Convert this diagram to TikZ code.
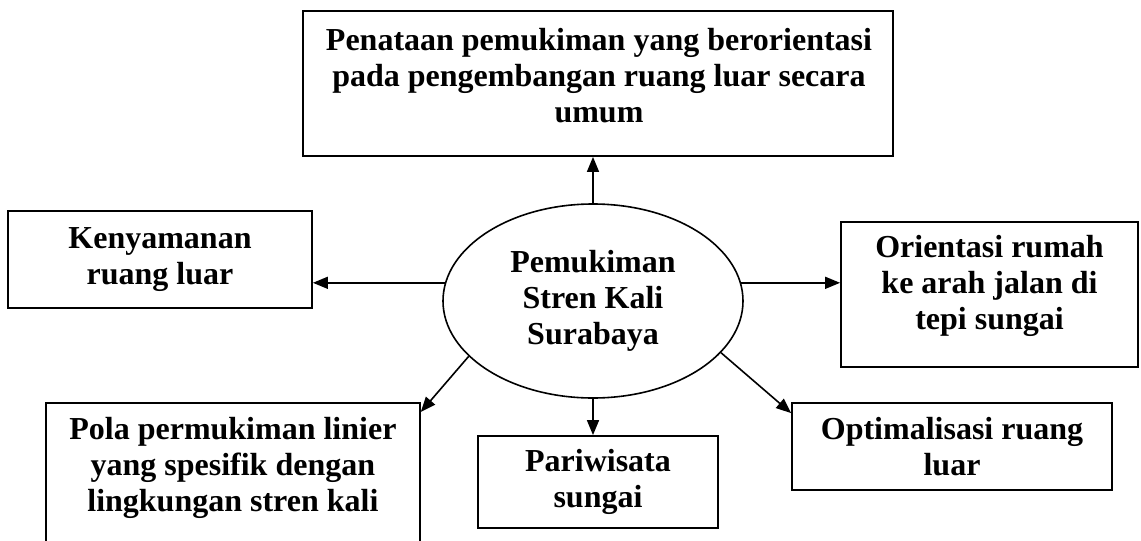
\documentclass[tikz,border=0pt]{standalone}
\usepackage{fontspec}
\setmainfont{Liberation Serif}
\usetikzlibrary{shapes.geometric,arrows.meta,calc}
\begin{document}
\begin{tikzpicture}[x=1pt,y=-1pt,
  every node/.style={font=\fontsize{32}{36}\selectfont\bfseries, align=center, inner sep=0pt},
  box/.style={draw, line width=1.8pt, rectangle},
  hub/.style={draw, line width=1.6pt, ellipse, minimum width=300pt, minimum height=194pt},
  link/.style={line width=1.6pt, -{Triangle[length=15pt,width=12pt]}}
]
\useasboundingbox (0,0) rectangle (1141,541);

% central theme
\node[hub] (c) at (593,301) {Pemukiman\\Stren Kali\\Surabaya};

% surrounding aspects
\node[box, minimum width=590pt, minimum height=145pt] (top) at (598,83.5) {};
\node (toptext) at (599,76)
  {Penataan pemukiman yang berorientasi\\pada pengembangan ruang luar secara\\umum};
\node[box, minimum width=304pt, minimum height=97pt] (ken) at (160,259.5)
  {Kenyamanan\\ruang luar};
\node[box, minimum width=297pt, minimum height=145pt] (ori) at (989.5,294.5) {};
\node (oritext) at (989.5,286)
  {Orientasi rumah\\ke arah jalan di\\tepi sungai};
\node[box, minimum width=374pt, minimum height=150pt, anchor=north west] (pola) at (45,402) {};
\node[anchor=north] (polatext) at ($(pola.north)+(0,15)$)
  {Pola permukiman linier\\yang spesifik dengan\\lingkungan stren kali};
\node[box, minimum width=240pt, minimum height=92pt] (pari) at (598,482)
  {Pariwisata\\sungai};
\node[box, minimum width=320pt, minimum height=87pt] (opt) at (952,446.5)
  {Optimalisasi ruang\\luar};

% connectors
\draw[link] (c.north) -- (c.north |- top.south);
\draw[link] (c.173) -- (c.173 -| ken.east);
\draw[link] (c.7) -- (c.7 -| ori.west);
\draw[link] (c.south) -- (c.south |- pari.north);
\draw[link] (c.204) -- ($(pola.north east)+(0,10)$);
\draw[link] (c.-22) -- ($(opt.north west)+(0,11)$);
\end{tikzpicture}
\end{document}
